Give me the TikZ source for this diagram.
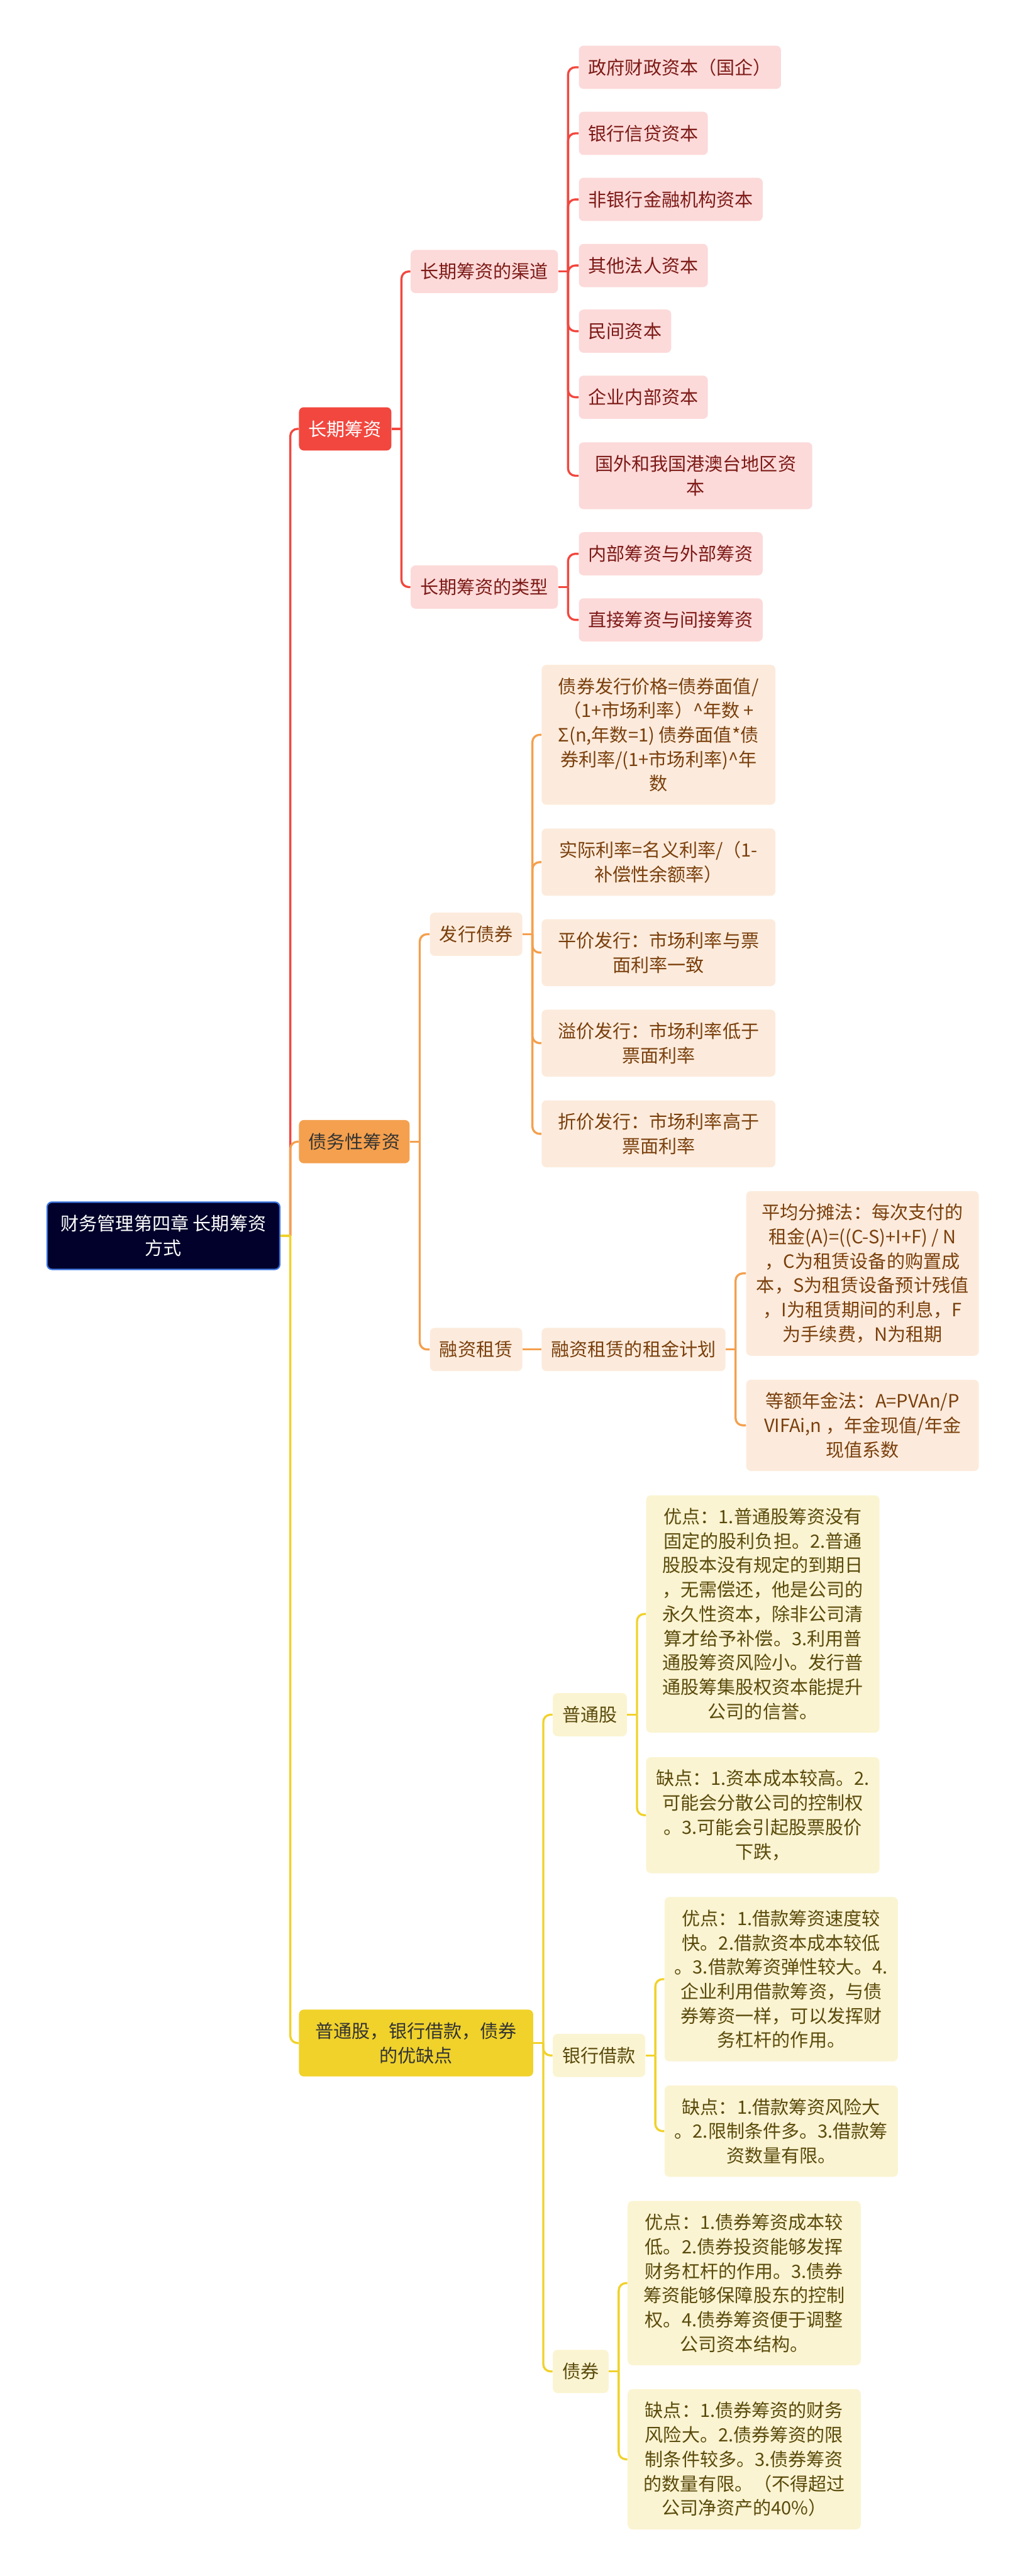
\documentclass[tikz,border=0pt]{standalone}
\usepackage{fontspec}
\setmainfont{Noto Sans CJK SC}
\usetikzlibrary{calc}
\definecolor{cRoot}{HTML}{01012B}
\definecolor{cRootEdge}{HTML}{3C74E0}
\definecolor{cRed}{HTML}{F2473E}
\definecolor{cRedSoft}{HTML}{FCDAD9}
\definecolor{cRedText}{HTML}{7D1A17}
\definecolor{cOrg}{HTML}{F4A04E}
\definecolor{cOrgSoft}{HTML}{FCEBDC}
\definecolor{cOrgText}{HTML}{7A3F0C}
\definecolor{cYlw}{HTML}{F0D22B}
\definecolor{cYlwSoft}{HTML}{FBF4D2}
\definecolor{cYlwText}{HTML}{5A4A0B}
\newcommand\mapfont{\fontsize{13pt}{17.3pt}\selectfont}
\tikzset{
  box/.style={anchor=west, rounded corners=0.12cm, inner xsep=0.24cm, inner ysep=0.32cm,
    minimum height=1.08cm, align=center, font=\mapfont},
  rootbox/.style={box, fill=cRoot, draw=cRootEdge, line width=1pt, text=white},
  redmain/.style={box, fill=cRed, text=white},
  orgmain/.style={box, fill=cOrg, text=black!80},
  ylwmain/.style={box, fill=cYlw, text=black!80},
  redsub/.style={box, fill=cRedSoft, text=cRedText},
  orgsub/.style={box, fill=cOrgSoft, text=cOrgText},
  ylwsub/.style={box, fill=cYlwSoft, text=cYlwText},
  note/.style={minimum width=5.83cm},
  rline/.style={draw=cRed, line width=1.5pt, rounded corners=0.18cm},
  oline/.style={draw=cOrg, line width=1.5pt, rounded corners=0.18cm},
  yline/.style={draw=cYlw, line width=1.5pt, rounded corners=0.18cm},
}
% parent, line style, children
\def\fork#1#2#3{%
  \coordinate (#1-t) at ($(#1.east)+(0.245,0)$);
  \foreach \c in {#3} {\draw[#2] (#1-t) |- (\c.west);}
  \draw[#2] (#1.east) -- (#1-t);
}

\begin{document}
\begin{tikzpicture}
	%%%%% START %%%%%
	\useasboundingbox (0,0) rectangle (25.6,-64.33);
	
	\node[rootbox, minimum width=5.81cm, minimum height=1.68cm] (root) at (1.16,-30.86) {财务管理第四章 长期筹资\\方式};
	
	\node[redmain] (cq) at (7.46,-10.71) {长期筹资};
	\node[orgmain] (zw) at (7.46,-28.51) {债务性筹资};
	\node[ylwmain, minimum width=5.85cm] (yq) at (7.46,-51.02) {普通股，银行借款，债券\\的优缺点};
	
	% 长期筹资
	\node[redsub] (qd) at (10.25,-6.78) {长期筹资的渠道};
	\node[redsub] (lx) at (10.25,-14.66) {长期筹资的类型};
	
	\node[redsub] (qd1) at (14.45,-1.68) {政府财政资本（国企）};
	\node[redsub] (qd2) at (14.45,-3.33) {银行信贷资本};
	\node[redsub] (qd3) at (14.45,-4.98) {非银行金融机构资本};
	\node[redsub] (qd4) at (14.45,-6.63) {其他法人资本};
	\node[redsub] (qd5) at (14.45,-8.27) {民间资本};
	\node[redsub] (qd6) at (14.45,-9.92) {企业内部资本};
	\node[redsub, note] (qd7) at (14.45,-11.88) {国外和我国港澳台地区资\\本};
	
	\node[redsub] (lx1) at (14.45,-13.83) {内部筹资与外部筹资};
	\node[redsub] (lx2) at (14.45,-15.48) {直接筹资与间接筹资};
	
	% 债务性筹资
	\node[orgsub] (fx) at (10.73,-23.33) {发行债券};
	\node[orgsub] (rz) at (10.73,-33.70) {融资租赁};
	
	\node[orgsub, note, minimum width=5.84cm] (fx1) at (13.52,-18.35) {债券发行价格=债券面值/\\（1+市场利率）\textasciicircum{}年数 +\\Σ(n,年数=1) 债券面值*债\\券利率/(1+市场利率)\textasciicircum{}年\\数};
	\node[orgsub, note, minimum width=5.84cm] (fx2) at (13.52,-21.53) {实际利率=名义利率/（1-\\补偿性余额率）};
	\node[orgsub, note, minimum width=5.84cm] (fx3) at (13.52,-23.79) {平价发行：市场利率与票\\面利率一致};
	\node[orgsub, note, minimum width=5.84cm] (fx4) at (13.52,-26.05) {溢价发行：市场利率低于\\票面利率};
	\node[orgsub, note, minimum width=5.84cm] (fx5) at (13.52,-28.315) {折价发行：市场利率高于\\票面利率};
	
	\node[orgsub] (rz1) at (13.52,-33.70) {融资租赁的租金计划};
	\node[orgsub, note, minimum width=5.81cm] (rz1a) at (18.63,-31.80) {平均分摊法：每次支付的\\租金(A)=((C-S)+I+F) / N\\，C为租赁设备的购置成\\本，S为租赁设备预计残值\\，I为租赁期间的利息，F\\为手续费，N为租期};
	\node[orgsub, note, minimum width=5.81cm] (rz1b) at (18.63,-35.595) {等额年金法：A=PVAn/P\\VIFAi,n ，年金现值/年金\\现值系数};
	
	% 优缺点
	\node[ylwsub] (pt) at (13.80,-42.82) {普通股};
	\node[ylwsub] (jk) at (13.80,-51.33) {银行借款};
	\node[ylwsub] (zq) at (13.80,-59.22) {债券};
	
	\node[ylwsub, note] (pt1) at (16.13,-40.305) {优点：1.普通股筹资没有\\固定的股利负担。2.普通\\股股本没有规定的到期日\\，无需偿还，他是公司的\\永久性资本，除非公司清\\算才给予补偿。3.利用普\\通股筹资风险小。发行普\\通股筹集股权资本能提升\\公司的信誉。};
	\node[ylwsub, note] (pt2) at (16.13,-45.33) {缺点：1.资本成本较高。2.\\可能会分散公司的控制权\\。3.可能会引起股票股价\\下跌，};
	\node[ylwsub, note] (jk1) at (16.59,-49.425) {优点：1.借款筹资速度较\\快。2.借款资本成本较低\\。3.借款筹资弹性较大。4.\\企业利用借款筹资，与债\\券筹资一样，可以发挥财\\务杠杆的作用。};
	\node[ylwsub, note] (jk2) at (16.59,-53.22) {缺点：1.借款筹资风险大\\。2.限制条件多。3.借款筹\\资数量有限。};
	\node[ylwsub, note, minimum width=5.82cm] (zq1) at (15.67,-57.015) {优点：1.债券筹资成本较\\低。2.债券投资能够发挥\\财务杠杆的作用。3.债券\\筹资能够保障股东的控制\\权。4.债券筹资便于调整\\公司资本结构。};
	\node[ylwsub, note, minimum width=5.82cm] (zq2) at (15.67,-61.415) {缺点：1.债券筹资的财务\\风险大。2.债券筹资的限\\制条件较多。3.债券筹资\\的数量有限。（不得超过\\公司净资产的40\%）};
	
	% connectors
	\coordinate (root-t) at ($(root.east)+(0.245,0)$);
	\draw[rline] (root-t) |- (cq.west);
	\draw[oline] (root-t) |- (zw.west);
	\draw[yline] (root-t) |- (yq.west);
	\draw[yline] (root.east) -- (root-t);
	
	\fork{cq}{rline}{qd,lx}
	\fork{qd}{rline}{qd1,qd2,qd3,qd4,qd5,qd6,qd7}
	\fork{lx}{rline}{lx1,lx2}
	
	\fork{zw}{oline}{fx,rz}
	\fork{fx}{oline}{fx1,fx2,fx3,fx4,fx5}
	\draw[oline] (rz.east) -- (rz1.west);
	\fork{rz1}{oline}{rz1a,rz1b}
	
	\fork{yq}{yline}{pt,jk,zq}
	\fork{pt}{yline}{pt1,pt2}
	\fork{jk}{yline}{jk1,jk2}
	\fork{zq}{yline}{zq1,zq2}
	
	%%%%% END %%%%%
\end{tikzpicture}
\end{document}
